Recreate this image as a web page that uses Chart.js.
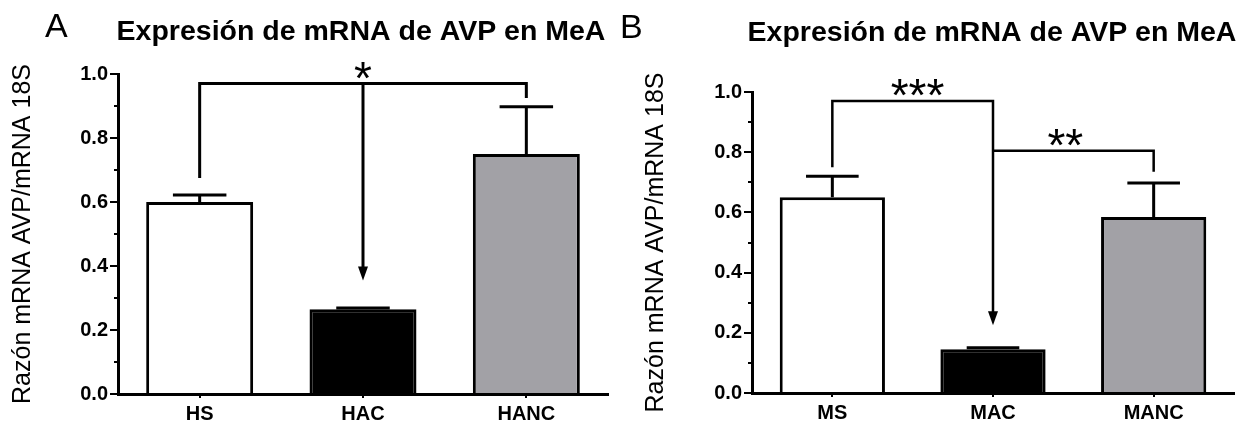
<!DOCTYPE html>
<html>
<head>
<meta charset="utf-8">
<script src="https://cdn.jsdelivr.net/npm/chart.js@4.4.1/dist/chart.umd.min.js"></script>
<style>
  body { margin: 0; background: #fff; }
  .panel { position: absolute; top: 0; height: 424px; }
  #pA { left: 0; width: 620px; }
  #pB { left: 620px; width: 629px; }
</style>
</head>
<body>
<div class="panel" id="pA"><canvas id="chartA"></canvas></div>
<div class="panel" id="pB"><canvas id="chartB"></canvas></div>
<script>
// data
const title = 'Expresión de mRNA de AVP en MeA';
const yTitle = 'Razón mRNA AVP/mRNA 18S';
const catsA = ['HS', 'HAC', 'HANC'];
const meanA = [0.60, 0.265, 0.75];
const semA = [0.022, 0.004, 0.148];
const catsB = ['MS', 'MAC', 'MANC'];
const meanB = [0.65, 0.145, 0.585];
const semB = [0.07, 0.005, 0.113];
const barColors = ['#ffffff', '#000000', '#a2a1a6'];
const yTicks = [0, 0.2, 0.4, 0.6, 0.8, 1.0];

// significance brackets: from/to category index, heights in data units
const sigA = [
  { from: 0, to: 2, top: 0.97, leftEnd: 0.675, rightEnd: 0.925, arrowAt: 1, arrowEnd: 0.355, label: '*', labelAt: 1, labelY: 1.017 }
];
const sigB = [
  { from: 0, to: 1, top: 0.97, leftEnd: 0.75, rightEnd: 0.225, rightArrow: true, label: '***', labelAt: 0.53, labelY: 1.023 },
  { from: 1, to: 2, top: 0.805, leftEnd: 0.805, rightEnd: 0.735, label: '**', labelAt: 1.45, labelY: 0.855 }
];

const fontFam = '"Liberation Sans", Arial, sans-serif';
const starSize = 46;

function arrowHead(ctx, x, y) {
  ctx.beginPath();
  ctx.moveTo(x - 5, y - 14);
  ctx.lineTo(x + 5, y - 14);
  ctx.lineTo(x, y);
  ctx.closePath();
  ctx.fill();
}

const extras = {
  id: 'extras',
  afterDatasetsDraw(chart, args, opts) {
    const ctx = chart.ctx;
    const xs = chart.scales.x, ys = chart.scales.y;
    const meta = chart.getDatasetMeta(0);
    ctx.save();
    ctx.strokeStyle = '#000';
    ctx.fillStyle = '#000';
    ctx.lineCap = 'butt';

    // error bars (upper only)
    ctx.lineWidth = 3;
    opts.sem.forEach((s, i) => {
      const bar = meta.data[i];
      const top = ys.getPixelForValue(opts.mean[i] + s);
      const half = bar.width / 4;
      ctx.beginPath();
      ctx.moveTo(bar.x, bar.y);
      ctx.lineTo(bar.x, top);
      ctx.moveTo(bar.x - half, top);
      ctx.lineTo(bar.x + half, top);
      ctx.stroke();
    });

    // minor ticks
    ctx.lineWidth = 2;
    for (let v = 0.1; v < 1; v += 0.2) {
      const py = Math.round(ys.getPixelForValue(v));
      ctx.beginPath();
      ctx.moveTo(xs.left - 4, py);
      ctx.lineTo(xs.left, py);
      ctx.stroke();
    }

    // brackets
    ctx.lineWidth = opts.bracketWidth;
    opts.sig.forEach(b => {
      const x1 = xs.getPixelForValue(b.from);
      const x2 = xs.getPixelForValue(b.to);
      const yt = ys.getPixelForValue(b.top);
      const yl = ys.getPixelForValue(b.leftEnd);
      const yr = ys.getPixelForValue(b.rightEnd);
      ctx.beginPath();
      ctx.moveTo(x1, yl);
      ctx.lineTo(x1, yt);
      ctx.lineTo(x2, yt);
      ctx.lineTo(x2, b.rightArrow ? yr - 12 : yr);
      ctx.stroke();
      if (b.rightArrow) arrowHead(ctx, x2, yr);
      if (b.arrowAt !== undefined) {
        const xa = xs.getPixelForValue(b.arrowAt);
        const ya = ys.getPixelForValue(b.arrowEnd);
        ctx.beginPath();
        ctx.moveTo(xa, yt);
        ctx.lineTo(xa, ya - 12);
        ctx.stroke();
        arrowHead(ctx, xa, ya);
      }
      const x0 = xs.getPixelForValue(0);
      const lx = x0 + (xs.getPixelForValue(1) - x0) * b.labelAt;
      ctx.font = starSize + 'px ' + fontFam;
      ctx.textAlign = 'center';
      ctx.textBaseline = 'alphabetic';
      // asterisk ink sits about 0.55em above the baseline
      ctx.fillText(b.label, lx, ys.getPixelForValue(b.labelY) + starSize * 0.56);
    });

    // panel letter and title
    ctx.textBaseline = 'alphabetic';
    ctx.textAlign = 'left';
    ctx.font = '34px ' + fontFam;
    ctx.fillText(opts.letter, opts.letterX, opts.letterY);
    ctx.textAlign = 'center';
    ctx.font = 'bold 28.5px ' + fontFam;
    ctx.fillText(title, opts.titleX, opts.titleY);
    ctx.restore();
  }
};

function makeChart(id, cats, mean, sem, sig, lay) {
  return new Chart(document.getElementById(id), {
    type: 'bar',
    data: {
      labels: cats,
      datasets: [{
        data: mean,
        backgroundColor: barColors,
        borderColor: '#000',
        borderWidth: 3,
        borderSkipped: 'bottom',
        categoryPercentage: 1.0,
        barPercentage: 0.655
      }]
    },
    options: {
      responsive: true,
      maintainAspectRatio: false,
      animation: false,
      events: [],
      layout: { padding: { left: 0, right: lay.right, top: lay.top, bottom: 0 } },
      plugins: {
        legend: { display: false },
        tooltip: { enabled: false },
        extras: {
          mean: mean, sem: sem, sig: sig,
          bracketWidth: lay.bracketWidth,
          letter: lay.letter, letterX: lay.letterX, letterY: lay.letterY,
          titleX: lay.titleX, titleY: lay.titleY
        }
      },
      scales: {
        x: {
          grid: { drawOnChartArea: false, drawTicks: true, tickLength: 4, offset: false, color: '#000', lineWidth: 2 },
          border: { color: '#000', width: 3 },
          ticks: { color: '#000', padding: 4, font: { family: fontFam, size: 20, weight: 'bold' } },
          afterFit: s => { s.height = lay.xHeight; }
        },
        y: {
          min: 0,
          max: 1.0,
          afterBuildTicks: s => { s.ticks = yTicks.map(v => ({ value: v })); },
          grid: { drawOnChartArea: false, drawTicks: true, tickLength: 8, color: '#000', lineWidth: 2 },
          border: { color: '#000', width: 3 },
          ticks: {
            color: '#000', padding: 2,
            font: { family: fontFam, size: 20, weight: 'bold' },
            callback: v => v.toFixed(1)
          },
          title: {
            display: true, text: yTitle, color: '#000',
            font: { family: fontFam, size: 25, weight: 'normal' },
            padding: { top: lay.yTitlePad, bottom: 0 }
          },
          afterFit: s => { s.width = lay.yWidth; }
        }
      }
    },
    plugins: [extras]
  });
}

makeChart('chartA', catsA, meanA, semA, sigA, {
  right: 12, top: 74, xHeight: 30, yWidth: 118, yTitlePad: 8, bracketWidth: 3,
  letter: 'A', letterX: 45, letterY: 37, titleX: 361, titleY: 40
});
makeChart('chartB', catsB, meanB, semB, sigB, {
  right: 15, top: 92, xHeight: 31, yWidth: 132, yTitlePad: 21, bracketWidth: 2.5,
  letter: 'B', letterX: 0, letterY: 38, titleX: 372, titleY: 41
});
</script>
</body>
</html>
